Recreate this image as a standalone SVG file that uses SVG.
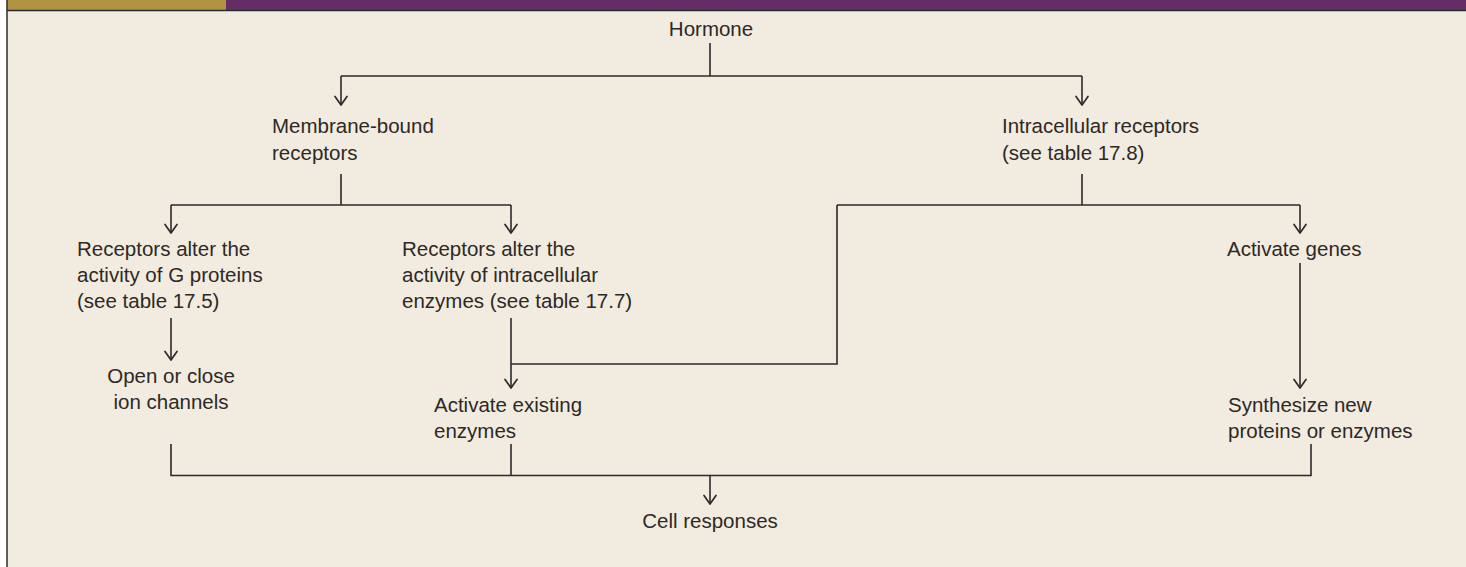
<svg xmlns="http://www.w3.org/2000/svg" width="1466" height="567" viewBox="0 0 1466 567">
  <defs>
    <style>
      .t { font-family: "Liberation Sans", Arial, sans-serif; font-size: 20.5px; fill: #2d2926; }
      .c { text-anchor: middle; }
      .ln { fill: none; stroke: #2b2b2b; stroke-width: 1.6; }
      .arr { fill: none; stroke: #2b2b2b; stroke-width: 1.6; marker-end: url(#head); }
    </style>
    <!-- open V arrowhead, drawn pointing along +x so orient="auto" turns it -->
    <marker id="head" viewBox="-10 -10 20 20" refX="0" refY="0" markerWidth="20" markerHeight="20" markerUnits="userSpaceOnUse" orient="auto">
      <path d="M -8.5 -6 L 0 0 L -8.5 6" fill="none" stroke="#2b2b2b" stroke-width="1.7" stroke-linejoin="round" stroke-linecap="round"/>
    </marker>
  </defs>

  <!-- page, panel and header band -->
  <rect x="0" y="0" width="1466" height="567" fill="#ffffff"/>
  <rect x="7" y="10" width="1459" height="557" fill="#f2ebdf"/>
  <rect x="7" y="0" width="219" height="10" fill="#b09442"/>
  <rect x="226" y="0" width="1240" height="10" fill="#652d66"/>
  <line x1="7" y1="10.5" x2="1466" y2="10.5" stroke="#2b2b2b" stroke-width="1.5"/>
  <line x1="7" y1="0" x2="7" y2="567" stroke="#2b2b2b" stroke-width="1.5"/>

  <!-- connectors -->
  <g id="connectors">
    <path class="ln" d="M710 43 V76 M341 76 H1082"/>
    <path class="arr" d="M341 76 V105"/>
    <path class="arr" d="M1082 76 V105"/>

    <path class="ln" d="M341 174 V205 M171 205 H511"/>
    <path class="arr" d="M171 205 V233"/>
    <path class="arr" d="M511 205 V233"/>

    <path class="ln" d="M1082 174 V205 M837 205 H1300 M837 205 V364 H511"/>
    <path class="arr" d="M1300 205 V233"/>

    <path class="arr" d="M171 318 V360"/>
    <path class="arr" d="M511 318 V388"/>
    <path class="arr" d="M1300 263 V388"/>

    <path class="ln" d="M171 444 V475.5 H1311 V444 M511 444 V475.5"/>
    <path class="arr" d="M710 475.5 V504"/>
  </g>

  <g id="hormone"><text class="t c" x="711" y="36">Hormone</text></g>

  <g id="membrane-receptors">
    <text class="t" x="272" y="133">Membrane-bound</text>
    <text class="t" x="272" y="160">receptors</text>
  </g>

  <g id="intracellular-receptors">
    <text class="t" x="1002" y="133">Intracellular receptors</text>
    <text class="t" x="1002" y="160">(see table 17.8)</text>
  </g>

  <g id="g-proteins">
    <text class="t" x="77" y="256">Receptors alter the</text>
    <text class="t" x="77" y="282">activity of G proteins</text>
    <text class="t" x="77" y="308">(see table 17.5)</text>
  </g>

  <g id="intracellular-enzymes">
    <text class="t" x="402" y="256">Receptors alter the</text>
    <text class="t" x="402" y="282">activity of intracellular</text>
    <text class="t" x="402" y="308">enzymes (see table 17.7)</text>
  </g>

  <g id="activate-genes"><text class="t" x="1227" y="256">Activate genes</text></g>

  <g id="ion-channels">
    <text class="t c" x="171" y="383">Open or close</text>
    <text class="t c" x="171" y="409">ion channels</text>
  </g>

  <g id="existing-enzymes">
    <text class="t" x="434" y="412">Activate existing</text>
    <text class="t" x="434" y="438">enzymes</text>
  </g>

  <g id="new-proteins">
    <text class="t" x="1228" y="412">Synthesize new</text>
    <text class="t" x="1228" y="438">proteins or enzymes</text>
  </g>

  <g id="cell-responses"><text class="t c" x="710" y="528">Cell responses</text></g>
</svg>
